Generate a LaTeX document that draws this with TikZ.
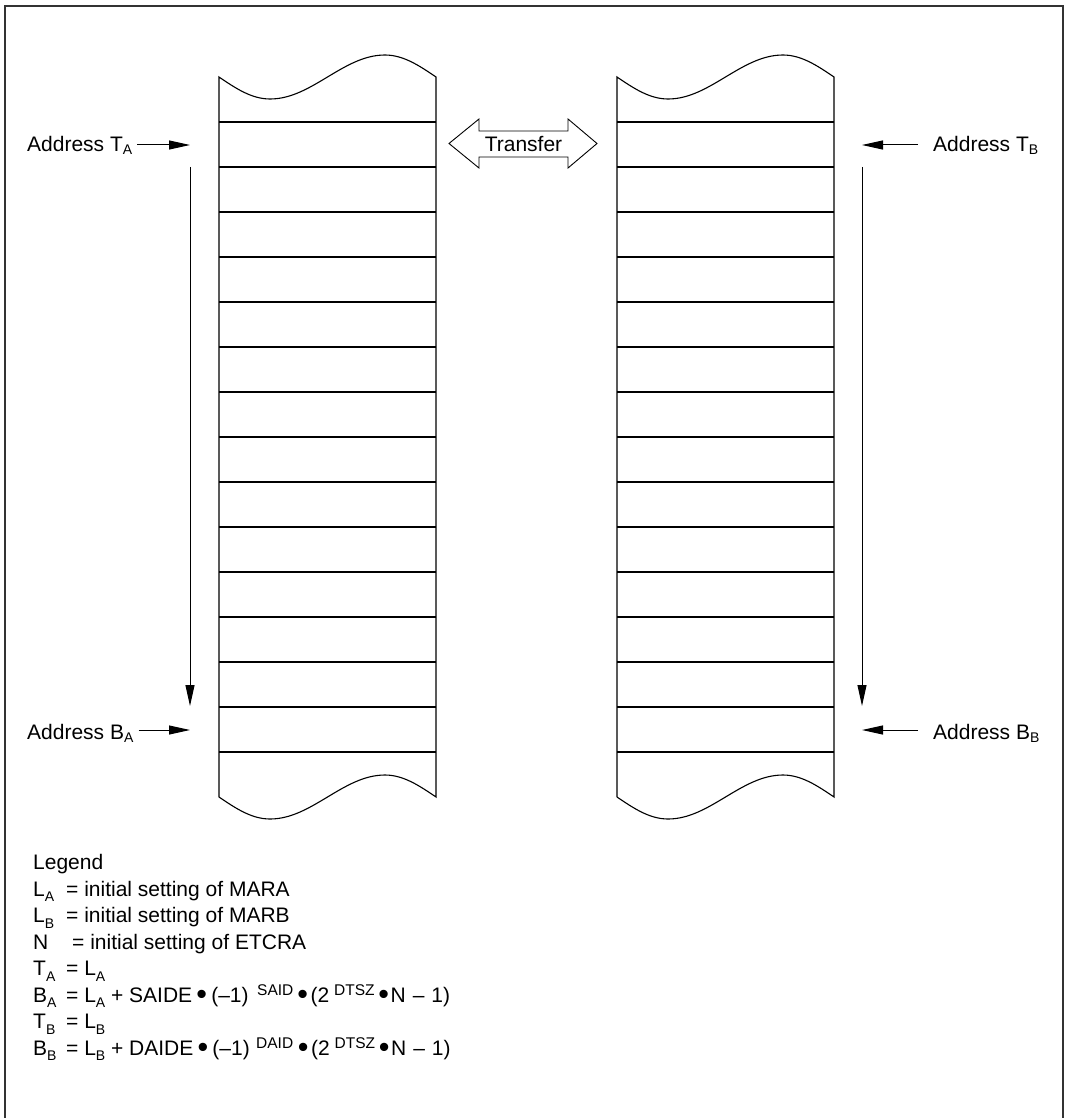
\documentclass[tikz,border=0pt]{standalone}
\usepackage{fontspec}
\usepackage{graphicx}
\setmainfont{Liberation Sans}
\usetikzlibrary{arrows.meta}
\newcommand{\adsub}[1]{\raisebox{-3pt}{\fontsize{14}{14}\selectfont #1}}
\newcommand{\lgsub}[1]{\raisebox{-5.5pt}{\fontsize{14}{14}\selectfont #1}}
\newcommand{\lgsup}[1]{\raisebox{7pt}{\fontsize{15.5}{15.5}\selectfont #1}}
\newcommand{\bul}{\makebox[14pt]{\raisebox{-2.5pt}{\scalebox{1.45}{•}}}}
\begin{document}
\begin{tikzpicture}[x=1pt,y=-1pt,
  font=\fontsize{21}{25}\selectfont,
  frameline/.style={line width=1.5pt, draw=black!80},
  colline/.style={line width=1.1pt, draw=black},
  arr/.style={line width=1pt, -{Triangle[length=21pt,width=9pt]}},
  lbl/.style={inner sep=0pt, anchor=base west},
  lg/.style={inner sep=0pt, anchor=base west}]
\useasboundingbox (0,0) rectangle (1068,1118);
% outer frame (bottom edge falls outside the picture)
\draw[frameline] (5,1120) -- (5,6) -- (1063,6) -- (1063,1120);

% memory columns
\foreach \x/\n in {219/A,617/B}{
  \coordinate (col\n) at (\x,77);
  \draw[colline] (\x,797) -- (\x,77)
     sin ++(51,22) cos ++(57.5,-22) sin ++(57.5,-22) cos ++(51,22)
     -- ++(0,720)
     sin ++(-51,-22) cos ++(-57.5,22) sin ++(-57.5,22) cos ++(-51,-22);
  \foreach \k in {0,...,14}{
    \draw[colline] ({\x},{122+45*\k}) -- ({\x+217},{122+45*\k});
  }
}

% transfer double arrow
\draw[line width=0.9pt] (449,143.5) -- (479,119) -- (479,131) -- (568,131) -- (568,119)
  -- (597,143.5) -- (568,168) -- (568,157) -- (479,157) -- (479,168) -- cycle;
\node[inner sep=0pt] (transfer) at (523.5,144) {Transfer};

% address labels
\node[lbl] (ta) at (27,152) {Address T\adsub{A}};
\node[lbl] (ba) at (27,739) {Address B\adsub{A}};
\node[lbl] (tb) at (933,152) {Address T\adsub{B}};
\node[lbl] (bb) at (933,739) {Address B\adsub{B}};
\coordinate (tatip) at (190,145);
\coordinate (batip) at (190,730);
\coordinate (tbtip) at (862,145);
\coordinate (bbtip) at (862,730);
\draw[arr, shorten <=5pt] (ta.east |- tatip) -- (tatip);
\draw[arr, shorten <=5pt] (ba.east |- batip) -- (batip);
\draw[arr, shorten <=15pt] (tb.west |- tbtip) -- (tbtip);
\draw[arr, shorten <=15pt] (bb.west |- bbtip) -- (bbtip);

% scan direction arrows
\coordinate (vatop) at (190,167);
\coordinate (vabot) at (190,706);
\coordinate (vbtop) at (862,167);
\coordinate (vbbot) at (862,706);
\draw[arr] (vatop) -- (vabot);
\draw[arr] (vbtop) -- (vbbot);

% legend
\node[lg] (l0) at (33,869.5) {Legend};
\node[lg] (l1) at (33,896) {\makebox[33pt][l]{L\lgsub{A}}= initial setting of MARA};
\node[lg] (l2) at (33,922.5) {\makebox[33pt][l]{L\lgsub{B}}= initial setting of MARB};
\node[lg] (l3) at (33,949) {\makebox[39pt][l]{N}= initial setting of ETCRA};
\node[lg] (l4) at (33,975.5) {\makebox[33pt][l]{T\lgsub{A}}= L\lgsub{A}};
\node[lg] (l5) at (33,1002) {\makebox[33pt][l]{B\lgsub{A}}= L\lgsub{A} + SAIDE\hspace{2.5pt}\bul\hspace{2.5pt}(–1)\hspace{8.6pt}\lgsup{SAID}\hspace{2.3pt}\bul\hspace{1pt}(2\hspace{4.8pt}\lgsup{DTSZ}\hspace{2pt}\bul N\hspace{7pt}–\hspace{7pt}1)};
\node[lg] (l6) at (33,1028.5) {\makebox[33pt][l]{T\lgsub{B}}= L\lgsub{B}};
\node[lg] (l7) at (33,1055) {\makebox[33pt][l]{B\lgsub{B}}= L\lgsub{B} + DAIDE\hspace{2.5pt}\bul\hspace{2.5pt}(–1)\hspace{6.4pt}\lgsup{DAID}\hspace{3pt}\bul\hspace{1pt}(2\hspace{4.8pt}\lgsup{DTSZ}\hspace{2pt}\bul N\hspace{7pt}–\hspace{7pt}1)};
\end{tikzpicture}
\end{document}
